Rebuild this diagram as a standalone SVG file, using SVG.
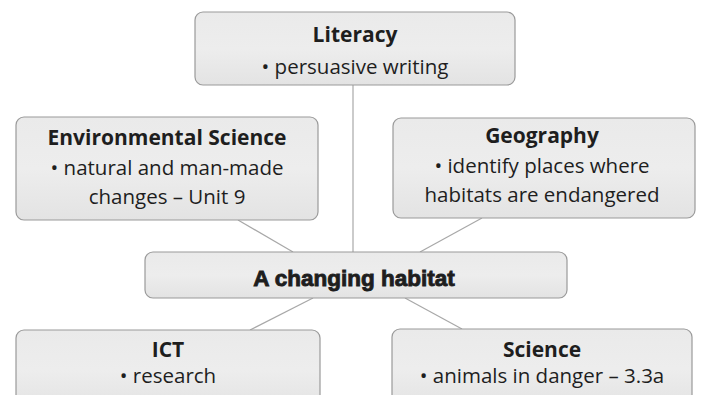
<svg xmlns="http://www.w3.org/2000/svg" width="701" height="395" viewBox="0 0 701 395">
<defs>
<linearGradient id="g" x1="0" y1="0" x2="0" y2="1">
<stop offset="0" stop-color="#eaeaea"/>
<stop offset="0.5" stop-color="#ededed"/>
<stop offset="1" stop-color="#e3e3e3"/>
</linearGradient>
</defs>
<style>
.box{fill:url(#g);stroke:#9a9a9a;stroke-width:1.2}
.t{font-family:"Open Sans","Noto Sans",sans-serif;font-size:21px;font-weight:700;fill:#1e1e1e;text-anchor:middle}
.b{font-family:"Open Sans","Noto Sans",sans-serif;font-size:20.5px;fill:#1e1e1e;text-anchor:middle}
.c{font-family:"Liberation Sans",Arial,sans-serif;font-size:22.5px;font-weight:900;fill:#1e1e1e;stroke:#1e1e1e;stroke-width:0.9;text-anchor:middle}
.ln{stroke:#a8a8a8;stroke-width:1.2;fill:none}
</style>
<rect width="701" height="395" fill="#ffffff"/>
<g id="connectors">
<line class="ln" x1="353" y1="85" x2="353" y2="252"/>
<line class="ln" x1="238" y1="220" x2="293" y2="252"/>
<line class="ln" x1="482" y1="218" x2="420" y2="252"/>
<line class="ln" x1="313" y1="298" x2="250" y2="330"/>
<line class="ln" x1="405" y1="298" x2="462" y2="329"/>
</g>
<g id="literacy">
<rect class="box" x="195" y="12" width="320" height="73" rx="8"/>
<text class="t" x="355" y="42">Literacy</text>
<text class="b" x="355" y="74">• persuasive writing</text>
</g>
<g id="env-science">
<rect class="box" x="16" y="117" width="302" height="103" rx="8"/>
<text class="t" x="167" y="145">Environmental Science</text>
<text class="b" x="167" y="175">• natural and man-made</text>
<text class="b" x="167" y="204">changes – Unit 9</text>
</g>
<g id="geography">
<rect class="box" x="393" y="118" width="302" height="100" rx="8"/>
<text class="t" x="542" y="143">Geography</text>
<text class="b" x="542" y="173">• identify places where</text>
<text class="b" x="542" y="202">habitats are endangered</text>
</g>
<g id="habitat">
<rect class="box" x="145" y="252" width="422" height="46" rx="8"/>
<text class="c" x="354" y="286">A changing habitat</text>
</g>
<g id="ict">
<rect class="box" x="16" y="330" width="304" height="80" rx="8"/>
<text class="t" x="168" y="357">ICT</text>
<text class="b" x="168" y="383">• research</text>
</g>
<g id="science">
<rect class="box" x="392" y="329" width="300" height="80" rx="8"/>
<text class="t" x="542" y="357">Science</text>
<text class="b" x="542" y="383">• animals in danger – 3.3a</text>
</g>
</svg>
